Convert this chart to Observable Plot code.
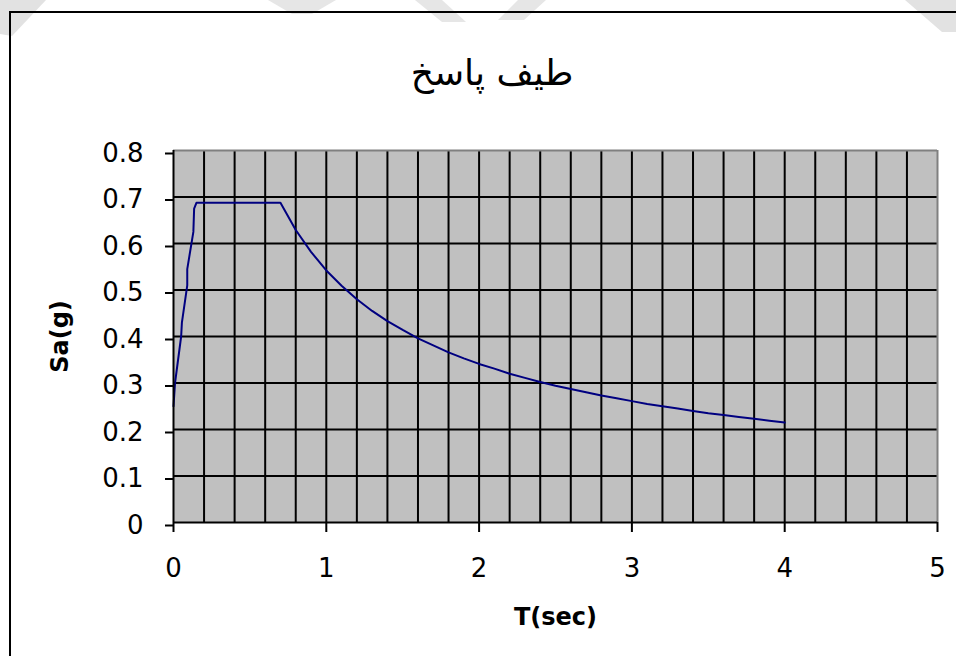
<!DOCTYPE html>
<html>
<head>
<meta charset="utf-8">
<script src="https://cdn.jsdelivr.net/npm/d3@7"></script>
<script src="https://cdn.jsdelivr.net/npm/@observablehq/plot@0.6"></script>
<style>
  html, body { margin: 0; padding: 0; background: #fff; width: 956px; height: 656px; overflow: hidden; }
  #wm { position: absolute; left: 0; top: 0; z-index: 0; }
  #frame { position: absolute; left: 9px; top: 11px; width: 2000px; height: 2000px; border: 2px solid #000; z-index: 1; }
  #title { position: absolute; left: 492px; top: 50px; transform: translateX(-50%); font-family: "DejaVu Sans", sans-serif; font-size: 36px; line-height: 46px; white-space: nowrap; direction: rtl; z-index: 2; color: #000; }
  #chart { position: absolute; left: 0; top: 120px; z-index: 2; }
</style>
</head>
<body>
<svg id="wm" width="956" height="60">
  <polygon points="0,0 46,0 12,36 0,34" fill="#e2e2e2"/>
  <polygon points="268,0 336,0 312,14 292,14" fill="#e6e6e6"/>
  <polygon points="415,0 442,0 466,22 442,22" fill="#e6e6e6"/>
  <polygon points="518,0 546,0 524,20 498,20" fill="#e6e6e6"/>
  <polygon points="905,0 990,0 962,32 942,32" fill="#e2e2e2"/>
</svg>
<div id="frame"></div>
<div id="title">طیف پاسخ</div>
<div id="chart"></div>
<script>
// Period T (sec) and spectral acceleration Sa (g)
const T = [0, 0.01, 0.05, 0.055, 0.09, 0.09, 0.13, 0.135, 0.15, 0.7,
  0.8, 0.9, 1.0, 1.1, 1.2, 1.3, 1.4, 1.5, 1.6, 1.7, 1.8, 1.9, 2.0,
  2.1, 2.2, 2.3, 2.4, 2.5, 2.6, 2.7, 2.8, 2.9, 3.0,
  3.1, 3.2, 3.3, 3.4, 3.5, 3.6, 3.7, 3.8, 3.9, 4.0];
const SA = [0.25, 0.30, 0.40, 0.43, 0.51, 0.545, 0.625, 0.675, 0.6875, 0.6875,
  0.629, 0.582, 0.542, 0.509, 0.480, 0.455, 0.433, 0.414, 0.396, 0.381, 0.366, 0.353, 0.341,
  0.331, 0.320, 0.311, 0.302, 0.294, 0.287, 0.280, 0.273, 0.267, 0.261,
  0.255, 0.250, 0.245, 0.240, 0.235, 0.231, 0.227, 0.223, 0.219, 0.215];
const xTicks = [0, 1, 2, 3, 4, 5];
const yTicks = [0, 0.1, 0.2, 0.3, 0.4, 0.5, 0.6, 0.7, 0.8];
const xGrid = [0.2, 0.4, 0.6, 0.8, 1.0, 1.2, 1.4, 1.6, 1.8, 2.0, 2.2, 2.4, 2.6, 2.8, 3.0, 3.2, 3.4, 3.6, 3.8, 4.0, 4.2, 4.4, 4.6, 4.8];
const yGrid = [0.1, 0.2, 0.3, 0.4, 0.5, 0.6, 0.7];
const xLabel = "T(sec)";
const yLabel = "Sa(g)";

const data = T.map((t, i) => ({T: t, Sa: SA[i]}));

const chart = Plot.plot({
  width: 956,
  height: 536,
  marginLeft: 173,
  marginRight: 19,
  marginTop: 30,
  marginBottom: 134,
  x: {domain: [0, 5]},
  y: {domain: [0, 0.8]},
  style: {fontFamily: "DejaVu Sans, sans-serif", fontSize: "26px", background: "transparent", overflow: "visible", color: "#000"},
  marks: [
    Plot.frame({fill: "#c0c0c0", stroke: null}),
    Plot.ruleX(xGrid, {stroke: "#000", strokeWidth: 2}),
    Plot.ruleY(yGrid, {stroke: "#000", strokeWidth: 2}),
    Plot.ruleY([0.8], {stroke: "#808080", strokeWidth: 2}),
    Plot.ruleX([5], {stroke: "#808080", strokeWidth: 2}),
    Plot.line(data, {x: "T", y: "Sa", stroke: "#000080", strokeWidth: 2}),
    Plot.ruleX([0], {stroke: "#000", strokeWidth: 2}),
    Plot.ruleY([0], {stroke: "#000", strokeWidth: 2}),
    Plot.axisY(yTicks, {tickSize: 8, tickPadding: 22, strokeWidth: 2, strokeOpacity: 1, dy: 3, label: null, fontSize: 26,
      tickFormat: d => d === 0 ? "0" : d.toFixed(1)}),
    Plot.axisX(xTicks, {tickSize: 10, tickPadding: 26, strokeWidth: 2, strokeOpacity: 1, label: null, fontSize: 26,
      tickFormat: d => String(d)}),
    Plot.text([xLabel], {frameAnchor: "bottom", dy: 95, text: d => d, fontWeight: "bold", fontSize: 24, lineAnchor: "middle", textAnchor: "middle"}),
    Plot.text([yLabel], {frameAnchor: "left", dx: -113, text: d => d, fontWeight: "bold", fontSize: 24, rotate: -90, lineAnchor: "middle", textAnchor: "middle"})
  ]
});
document.getElementById("chart").appendChild(chart);
</script>
</body>
</html>
